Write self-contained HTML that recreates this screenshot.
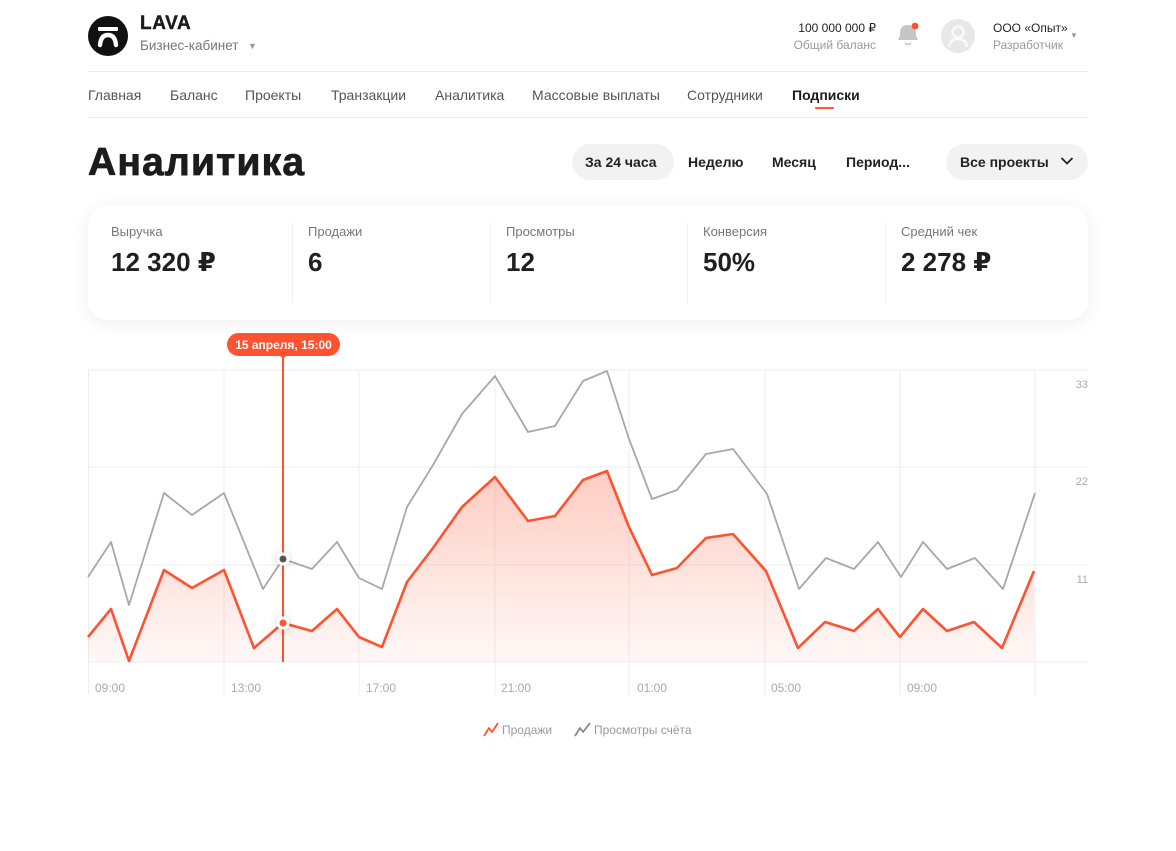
<!DOCTYPE html>
<html><head><meta charset="utf-8">
<style>
*{margin:0;padding:0;box-sizing:border-box}
html,body{width:1176px;height:851px;background:#fff;overflow:hidden}
body{font-family:"Liberation Sans","DejaVu Sans",sans-serif;color:#222;position:relative}
.a{position:absolute;white-space:nowrap}
.nav{position:absolute;top:87px;font-size:14px;color:#555;line-height:16px}
.btn{position:absolute;top:153px;font-size:14px;font-weight:bold;color:#222;line-height:18px}
.pill{position:absolute;top:144px;height:36px;background:#f2f2f2;border-radius:18px}
.lbl{position:absolute;top:224px;font-size:13px;color:#777;line-height:16px}
.val{position:absolute;top:247px;font-size:26px;font-weight:bold;color:#1f1f1f;line-height:30px}
.div{position:absolute;top:223px;width:1px;height:80px;background:#f0f0f0}
.xl{position:absolute;top:681px;font-size:12px;color:#aaa;line-height:14px}
.yl{position:absolute;font-size:11px;color:#aaa;line-height:13px;right:88px}
</style></head><body>

<!-- header -->
<svg class="a" style="left:88px;top:16px" width="40" height="40" viewBox="0 0 40 40">
<circle cx="20" cy="20" r="20" fill="#111"/>
<rect x="10" y="11" width="20" height="4" rx="1" fill="#fff"/>
<path d="M12,29 Q13,19 20,19 Q27,19 28,29" stroke="#fff" stroke-width="4.4" fill="none" stroke-linecap="round"/>
</svg>
<div class="a" style="left:140px;top:13px;font-size:19px;font-weight:bold;letter-spacing:0.6px;color:#1c1c1c;line-height:22px;-webkit-text-stroke:0.4px #1c1c1c">LAVA</div>
<div class="a" style="left:140px;top:38px;font-size:13.5px;color:#777;line-height:16px">Бизнес-кабинет</div>
<div class="a" style="left:248px;top:40px;font-size:9px;color:#999;line-height:12px">▼</div>

<div class="a" style="right:300px;top:21px;font-size:12px;color:#222;line-height:14px">100 000 000 ₽</div>
<div class="a" style="right:300px;top:38px;font-size:12px;color:#999;line-height:14px">Общий баланс</div>
<svg class="a" style="left:896px;top:20px" width="26" height="30" viewBox="0 0 26 30">
<path d="M2,20 Q4,17 4,13 Q4,5 12,5 Q20,5 20,13 Q20,17 22,20 Z" fill="#c6c6c6"/>
<path d="M9,23 Q12,26 15,23" stroke="#c6c6c6" stroke-width="1.6" fill="none"/>
<circle cx="19" cy="6" r="3.4" fill="#ff4f2d"/>
</svg>
<svg class="a" style="left:941px;top:19px" width="34" height="34" viewBox="0 0 34 34">
<circle cx="17" cy="17" r="17" fill="#e8e8e8"/>
<circle cx="17" cy="13" r="5.5" fill="none" stroke="#fafafa" stroke-width="2.4"/>
<path d="M8,28 Q9,20 17,20 Q25,20 26,28" fill="none" stroke="#fafafa" stroke-width="2.4"/>
</svg>
<div class="a" style="left:993px;top:21px;font-size:12px;color:#222;line-height:14px">ООО «Опыт»</div>
<div class="a" style="left:993px;top:38px;font-size:12px;color:#999;line-height:14px">Разработчик</div>
<div class="a" style="left:1070px;top:31px;font-size:8px;color:#999;line-height:10px">▼</div>

<div class="a" style="left:88px;top:71px;width:1000px;height:1px;background:#ececec"></div>
<div class="nav" style="left:88px">Главная</div>
<div class="nav" style="left:170px">Баланс</div>
<div class="nav" style="left:245px">Проекты</div>
<div class="nav" style="left:331px">Транзакции</div>
<div class="nav" style="left:435px">Аналитика</div>
<div class="nav" style="left:532px">Массовые выплаты</div>
<div class="nav" style="left:687px">Сотрудники</div>
<div class="nav" style="left:792px;color:#1c1c1c;font-weight:bold">Подписки</div>
<div class="a" style="left:815px;top:107px;width:19px;height:2px;background:#ff5533;border-radius:1px"></div>
<div class="a" style="left:88px;top:117px;width:1000px;height:1px;background:#ececec"></div>

<!-- title row -->
<div class="a" style="left:88px;top:140px;font-size:39px;font-weight:bold;color:#1c1c1c;letter-spacing:1.2px;line-height:46px;-webkit-text-stroke:0.8px #1c1c1c">Аналитика</div>
<div class="pill" style="left:572px;width:102px"></div>
<div class="btn" style="left:585px">За 24 часа</div>
<div class="btn" style="left:688px">Неделю</div>
<div class="btn" style="left:772px">Месяц</div>
<div class="btn" style="left:846px">Период...</div>
<div class="pill" style="left:946px;width:142px"></div>
<div class="btn" style="left:960px">Все проекты</div>
<svg class="a" style="left:1060px;top:156px" width="14" height="10" viewBox="0 0 14 10"><path d="M1.5,2 L7,7.5 L12.5,2" stroke="#222" stroke-width="1.8" fill="none"/></svg>

<!-- stats card -->
<div class="a" style="left:88px;top:205px;width:1000px;height:115px;background:#fff;border-radius:20px;box-shadow:0 3px 18px rgba(0,0,0,0.07)"></div>
<div class="div" style="left:292px"></div>
<div class="div" style="left:490px"></div>
<div class="div" style="left:687px"></div>
<div class="div" style="left:885px"></div>
<div class="lbl" style="left:111px">Выручка</div>
<div class="val" style="left:111px">12 320 ₽</div>
<div class="lbl" style="left:308px">Продажи</div>
<div class="val" style="left:308px">6</div>
<div class="lbl" style="left:506px">Просмотры</div>
<div class="val" style="left:506px">12</div>
<div class="lbl" style="left:703px">Конверсия</div>
<div class="val" style="left:703px">50%</div>
<div class="lbl" style="left:901px">Средний чек</div>
<div class="val" style="left:901px">2 278 ₽</div>

<!-- chart -->
<svg class="a" style="left:0;top:0" width="1176" height="851" viewBox="0 0 1176 851">
<defs>
<linearGradient id="g" x1="0" y1="0" x2="0" y2="1">
<stop offset="0" stop-color="#ff5533" stop-opacity="0.30"/>
<stop offset="1" stop-color="#ff5533" stop-opacity="0.04"/>
</linearGradient>
<filter id="sh" x="-100%" y="-100%" width="300%" height="300%"><feDropShadow dx="0" dy="1" stdDeviation="4" flood-color="#000" flood-opacity="0.18"/></filter>
</defs>
<g stroke="#eeeeee" stroke-width="1">
<line x1="88" y1="370" x2="1088" y2="370"/>
<line x1="88" y1="467" x2="1088" y2="467"/>
<line x1="88" y1="565" x2="1088" y2="565"/>
<line x1="88" y1="662" x2="1088" y2="662"/>
<line x1="88.5" y1="370" x2="88.5" y2="695"/>
<line x1="224" y1="370" x2="224" y2="695"/>
<line x1="359" y1="370" x2="359" y2="695"/>
<line x1="495" y1="370" x2="495" y2="695"/>
<line x1="629" y1="370" x2="629" y2="695"/>
<line x1="765" y1="370" x2="765" y2="695"/>
<line x1="900" y1="370" x2="900" y2="695"/>
<line x1="1035" y1="370" x2="1035" y2="695"/>
</g>
<polygon fill="url(#g)" points="88,637 111,609 129,661 164,570 192,588 224,570 254,648 283,623 312,631 337,609 359,637 382,647 407,582 433,548 462,507 495,477 528,521 555,516 583,480 607,471 629,527 652,575 677,568 706,538 733,534 766,571 798,648 825,622 854,631 878,609 900,637 923,609 947,631 974,622 1002,648 1034,571 1034,662 88,662"/>
<polyline fill="none" stroke="#a8a8a8" stroke-width="1.8" stroke-linejoin="round" points="88,577 111,542 129,605 164,493 192,515 224,493 263,589 283,559 312,569 337,542 359,578 382,589 407,507 433,465 462,414 495,376 528,432 555,426 583,381 607,371 629,439 652,499 677,490 706,454 733,449 767,494 799,589 826,558 854,569 878,542 901,577 923,542 947,569 975,558 1003,589 1035,493"/>
<polyline fill="none" stroke="#fe5331" stroke-width="2.6" stroke-linejoin="round" points="88,637 111,609 129,661 164,570 192,588 224,570 254,648 283,623 312,631 337,609 359,637 382,647 407,582 433,548 462,507 495,477 528,521 555,516 583,480 607,471 629,527 652,575 677,568 706,538 733,534 766,571 798,648 825,622 854,631 878,609 900,637 923,609 947,631 974,622 1002,648 1034,571"/>
<line x1="283" y1="356" x2="283" y2="662" stroke="#fe5331" stroke-width="2"/>
<rect x="227" y="333" width="113" height="23" rx="11.5" fill="#fe5331"/>
<path d="M277,355 Q283,356 283,362 Q283,356 289,355 Z" fill="#fe5331"/>
<text x="283.5" y="349" text-anchor="middle" font-family="Liberation Sans, sans-serif" font-size="12" font-weight="bold" fill="#fff">15 апреля, 15:00</text>
<circle cx="283" cy="559" r="6.5" fill="#fff" filter="url(#sh)"/>
<circle cx="283" cy="559" r="3.5" fill="#555"/>
<circle cx="283" cy="623" r="6.5" fill="#fff" filter="url(#sh)"/>
<circle cx="283" cy="623" r="3.5" fill="#fe5331"/>
<!-- legend icons -->
<polyline points="484,736 489,728 492,732 498,723" fill="none" stroke="#fe5331" stroke-width="1.8" stroke-linejoin="round"/>
<polyline points="575,736 580,728 583,732 590,723" fill="none" stroke="#888" stroke-width="1.8" stroke-linejoin="round"/>
</svg>

<div class="yl" style="top:379px">33</div>
<div class="yl" style="top:476px">22</div>
<div class="yl" style="top:574px">11</div>

<div class="xl" style="left:95px">09:00</div>
<div class="xl" style="left:231px">13:00</div>
<div class="xl" style="left:366px">17:00</div>
<div class="xl" style="left:501px">21:00</div>
<div class="xl" style="left:637px">01:00</div>
<div class="xl" style="left:771px">05:00</div>
<div class="xl" style="left:907px">09:00</div>

<div class="a" style="left:502px;top:723px;font-size:12px;color:#999;line-height:14px">Продажи</div>
<div class="a" style="left:594px;top:723px;font-size:12px;color:#999;line-height:14px">Просмотры счёта</div>

</body></html>
